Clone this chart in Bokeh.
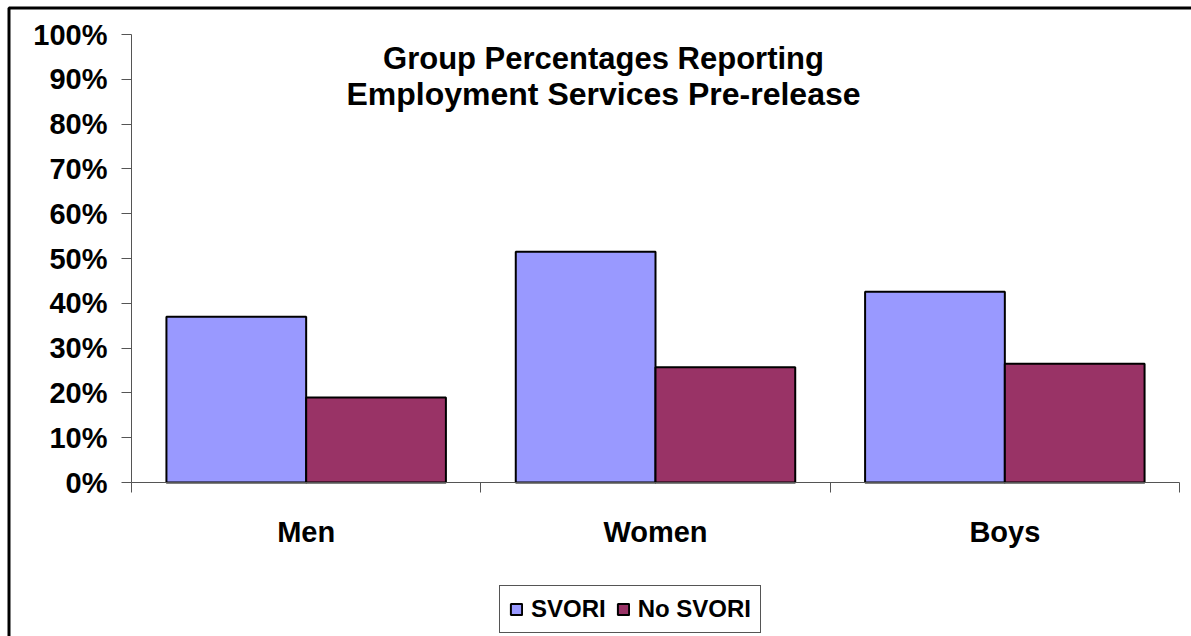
from bokeh.plotting import figure
from bokeh.models import (Range1d, FixedTicker, Label, ColumnDataSource, Legend, LegendItem,
                          BoxAnnotation)
from bokeh.embed import file_html
from bokeh.resources import INLINE

# ---- data ----
categories = ["Men", "Women", "Boys"]
svori = [0.37, 0.515, 0.426]
no_svori = [0.19, 0.257, 0.265]
series_names = ["SVORI", "No SVORI"]
y_ticks = [0.0, 0.1, 0.2, 0.3, 0.4, 0.5, 0.6, 0.7, 0.8, 0.9, 1.0]
y_tick_labels = ["0%", "10%", "20%", "30%", "40%", "50%", "60%", "70%", "80%", "90%", "100%"]
title_lines = ["Group Percentages Reporting", "Employment Services Pre-release"]

FONT = "Liberation Sans"
AXIS_COLOR = "#555555"
W, H = 1191, 636
# plot-area placement in pixels (canvas coords)
PL, PR, PT, PB = 131, 1179, 34, 482

n = len(categories)
xu = (PR - PL) / n          # pixels per category
yu = (PB - PT) / 1.0        # pixels per unit of y
x_range = Range1d(-PL / xu, n + (W - PR) / xu)
y_range = Range1d(-(H - PB) / yu, 1.0 + PT / yu)

idx = list(range(n))
src = ColumnDataSource(dict(
    x_svori=[i + 0.3 for i in idx],
    x_no=[i + 0.7 for i in idx],
    svori=svori,
    no_svori=no_svori,
))

p = figure(width=W, height=H, output_backend="svg", toolbar_location=None,
           x_range=x_range, y_range=y_range,
           min_border=0, min_border_left=0, min_border_right=0,
           min_border_top=0, min_border_bottom=0,
           background_fill_color="white", border_fill_color="white")
p.outline_line_color = None
p.xgrid.grid_line_color = None
p.ygrid.grid_line_color = None

r1 = p.vbar(x="x_svori", top="svori", width=0.4, source=src,
            fill_color="#9999FF", line_color="black", line_width=2)
r2 = p.vbar(x="x_no", top="no_svori", width=0.4, source=src,
            fill_color="#993366", line_color="black", line_width=2)

# y axis
ya = p.yaxis[0]
ya.fixed_location = 0
ya.bounds = (0, 1)
ya.ticker = FixedTicker(ticks=y_ticks, minor_ticks=[])
ya.major_label_overrides = {t: l for t, l in zip(y_ticks, y_tick_labels)}
ya.major_tick_out = 10
ya.major_tick_in = 0
ya.minor_tick_out = 0
ya.minor_tick_in = 0
ya.major_label_standoff = 14
ya.axis_line_color = AXIS_COLOR
ya.major_tick_line_color = AXIS_COLOR
ya.major_label_text_font = FONT
ya.major_label_text_font_style = "bold"
ya.major_label_text_font_size = "29px"
ya.major_label_text_color = "black"

# x axis
xa = p.xaxis[0]
xa.fixed_location = 0
xa.bounds = (0, n)
centers = [i + 0.5 for i in idx]
xa.ticker = FixedTicker(ticks=centers, minor_ticks=[float(i) for i in range(n + 1)])
xa.major_label_overrides = {c: name for c, name in zip(centers, categories)}
xa.major_tick_out = 0
xa.major_tick_in = 0
xa.minor_tick_out = 10
xa.minor_tick_in = 0
xa.major_label_standoff = 23
xa.axis_line_color = AXIS_COLOR
xa.minor_tick_line_color = AXIS_COLOR
xa.major_label_text_font = FONT
xa.major_label_text_font_style = "bold"
xa.major_label_text_font_size = "29px"
xa.major_label_text_color = "black"

# outer chart border (top and left visible; the rest runs off the picture)
p.add_layout(BoxAnnotation(left=8.5, right=W + 20, bottom=-20, top=H - 7.5,
                           left_units="screen", right_units="screen",
                           bottom_units="screen", top_units="screen",
                           fill_color=None, fill_alpha=0,
                           line_color="black", line_alpha=1.0, line_width=3))

# title inside plot area
for txt, yy, fs in zip(title_lines, [H - 58, H - 93], ["31px", "32px"]):
    p.add_layout(Label(x=603, y=yy, x_units="screen", y_units="screen", text=txt,
                       text_align="center", text_baseline="alphabetic",
                       text_font=FONT, text_font_style="bold", text_font_size=fs,
                       text_color="black"))

legend = Legend(items=[LegendItem(label=series_names[0], renderers=[r1]),
                       LegendItem(label=series_names[1], renderers=[r2])],
                location=(499, H - 633), orientation="horizontal",
                label_text_font=FONT, label_text_font_style="bold",
                label_text_font_size="24px", label_text_color="black",
                glyph_width=14, glyph_height=14, label_standoff=8, spacing=10,
                padding=9, margin=0, border_line_color="#555555", border_line_width=1.5,
                border_line_alpha=1.0,
                background_fill_color="white", background_fill_alpha=1.0)
p.add_layout(legend, "center")

open("out.html", "w").write(file_html(p, INLINE))
